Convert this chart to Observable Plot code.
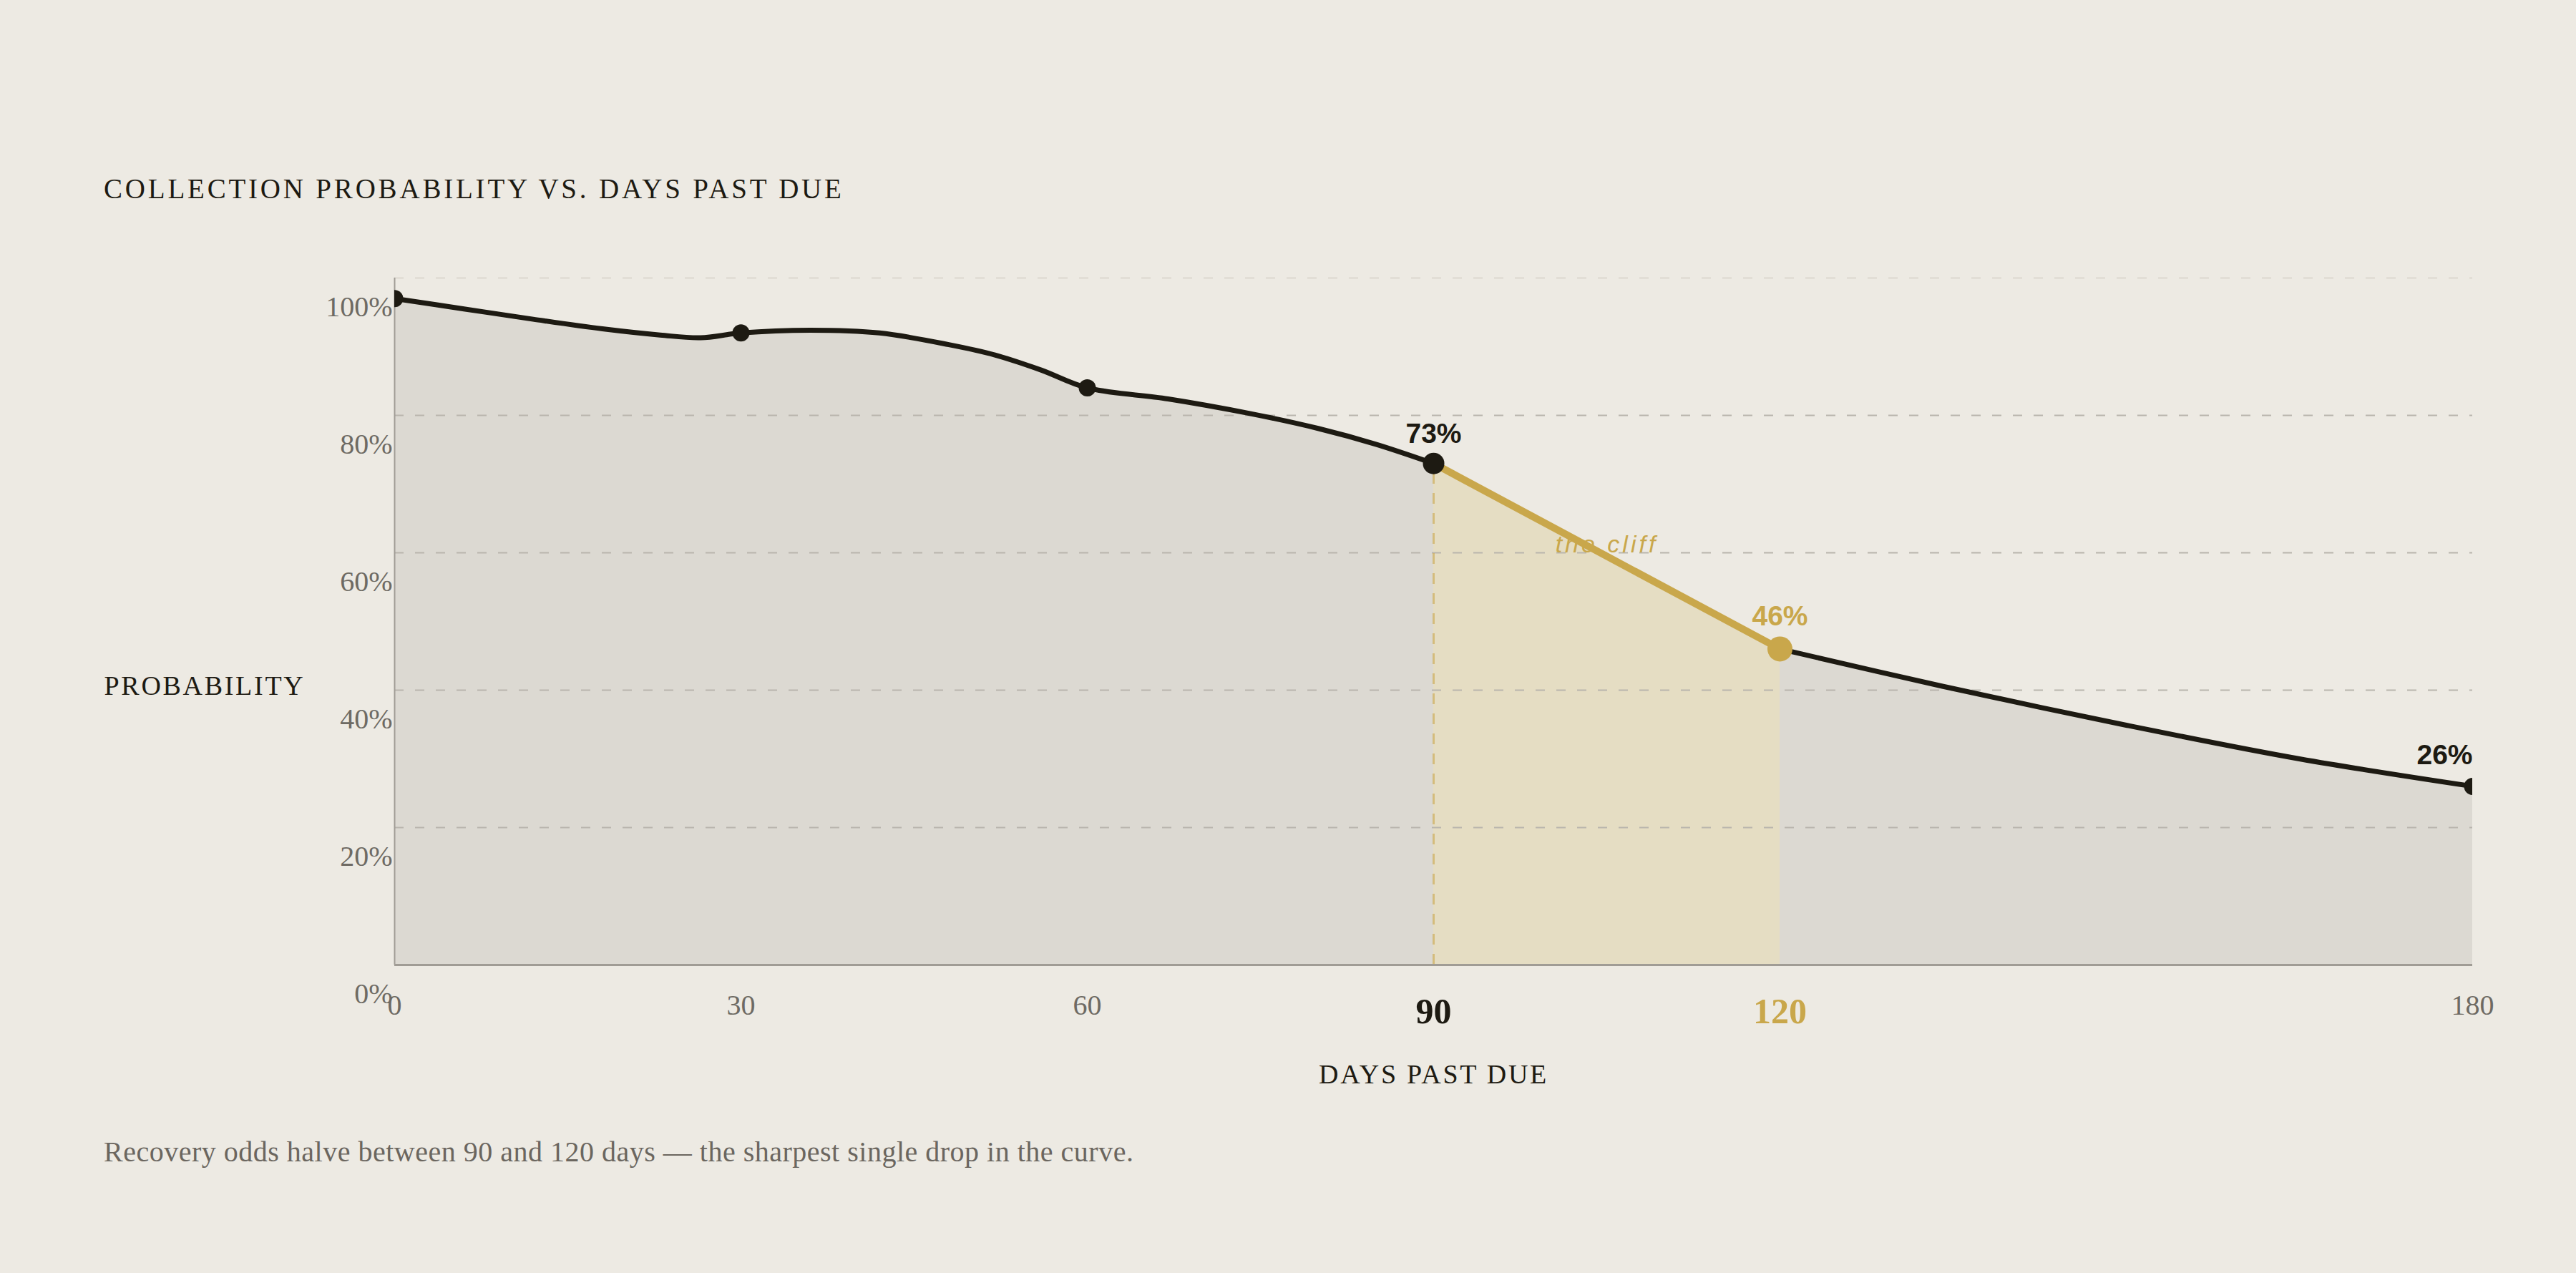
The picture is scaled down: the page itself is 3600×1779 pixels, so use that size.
<!DOCTYPE html>
<html>
<head>
<meta charset="utf-8">
<script src="https://cdn.jsdelivr.net/npm/d3@7"></script>
<script src="https://cdn.jsdelivr.net/npm/@observablehq/plot@0.6"></script>
<style>
  html, body { margin: 0; padding: 0; background: #edeae3; }
  body { width: 3600px; height: 1779px; position: relative; overflow: hidden; font-family: "Liberation Serif", serif; }
  #title { position: absolute; left: 145px; top: 244px; font-size: 39px; line-height: 1; letter-spacing: 3.8px; color: #1d1a12; white-space: nowrap; }
  #chart { position: absolute; left: 0; top: 300px; }
  #caption { position: absolute; left: 145px; top: 1590px; font-size: 40px; line-height: 1; letter-spacing: 0.5px; color: #6b665f; white-space: nowrap; }
</style>
</head>
<body>
<div id="title"></div>
<div id="chart"></div>
<div id="caption"></div>
<script>
// ---- text ----
const titleText = "COLLECTION PROBABILITY VS. DAYS PAST DUE";
const yLabelText = "PROBABILITY";
const xLabelText = "DAYS PAST DUE";
const captionText = "Recovery odds halve between 90 and 120 days \u2014 the sharpest single drop in the curve.";
const cliffNoteText = "the cliff";

// ---- data ----
const keyDays = [0, 30, 60, 90, 120, 180];
const keyProb = [97, 92, 84, 73, 46, 26];
const curveDays = [0, 6, 12, 18, 23, 26.5, 30, 36, 42, 48, 52, 56, 60, 67, 74, 80, 85, 90, 120, 134, 150, 165, 180];
const curveProb = [97, 95.5, 94.0, 92.6, 91.7, 91.3, 92, 92.4, 92.0, 90.3, 88.8, 86.6, 84, 82.4, 80.3, 78.1, 75.8, 73, 46, 40.6, 34.9, 30.0, 26];
const cliffDays = [90, 120];
const cliffProb = [73, 46];
const annotatedDays = [90, 120, 180];
const yTicks = [0, 20, 40, 60, 80, 100];
const xTicks = [0, 30, 60, 90, 120, 180];
const xTickStrong = [90];
const xTickGold = [120];

// ---- colours ----
const C = {
  ink: "#1d1a12", gold: "#c9a74b", area: "#dcd9d2", goldArea: "#e5ddc3",
  grid: "#b9b5ad", gridLight: "#dcd8d0", axis: "#a09c95", tick: "#6e6a63"
};

document.getElementById("title").textContent = titleText;
document.getElementById("caption").textContent = captionText;

const keyRows = keyDays.map((d, i) => ({day: d, prob: keyProb[i]}));
const curveRows = curveDays.map((d, i) => ({
  day: d, prob: curveProb[i],
  seg: d <= cliffDays[0] ? "before" : d >= cliffDays[1] ? "after" : null
})).filter(r => r.seg !== null);
const cliffRows = cliffDays.map((d, i) => ({day: d, prob: cliffProb[i]}));
const cliffMid = [{day: d3.mean(cliffDays), prob: d3.mean(cliffProb), text: cliffNoteText}];
const annRows = keyRows.filter(r => annotatedDays.includes(r.day));
const plainTicks = xTicks.filter(t => !xTickStrong.includes(t) && !xTickGold.includes(t));

const plot = Plot.plot({
  width: 3600,
  height: 1250,
  marginLeft: 551,
  marginRight: 145,
  marginTop: 88,
  marginBottom: 202,
  x: {domain: [0, 180], axis: null},
  y: {domain: [0, 100], axis: null},
  style: {background: "transparent", fontFamily: "Liberation Serif", overflow: "visible"},
  marks: [
    Plot.areaY(curveRows, {x: "day", y: "prob", z: "seg", curve: "catmull-rom", fill: C.area}),
    Plot.areaY(cliffRows, {x: "day", y: "prob", fill: C.goldArea}),
    Plot.ruleY(yTicks.filter(t => t > 0 && t < 100), {stroke: C.grid, strokeWidth: 2, strokeDasharray: "13,16"}),
    Plot.ruleY(yTicks.filter(t => t === 100), {stroke: C.gridLight, strokeWidth: 2, strokeDasharray: "13,16"}),
    Plot.ruleX([cliffRows[0]], {x: "day", y1: 0, y2: "prob", stroke: C.gold, strokeOpacity: 0.6, strokeWidth: 3, strokeDasharray: "15,13"}),
    Plot.ruleX([0], {stroke: C.axis, strokeWidth: 2}),
    Plot.ruleY([0], {stroke: C.axis, strokeWidth: 3}),
    Plot.axisY({ticks: yTicks, tickFormat: d => d + "%", tickSize: 0, tickPadding: 3, dy: 41,
      fontSize: 40, fill: C.tick, label: null}),
    Plot.text(plainTicks, {x: d => d, text: d => String(d), frameAnchor: "bottom", lineAnchor: "bottom",
      dy: 69, fontSize: 40, fill: C.tick}),
    Plot.text(xTickStrong, {x: d => d, text: d => String(d), frameAnchor: "bottom", lineAnchor: "bottom",
      dy: 81, fontSize: 50, fontWeight: "bold", fill: C.ink}),
    Plot.text(xTickGold, {x: d => d, text: d => String(d), frameAnchor: "bottom", lineAnchor: "bottom",
      dy: 81, fontSize: 50, fontWeight: "bold", fill: C.gold}),
    Plot.text([yLabelText], {text: d => d, frameAnchor: "left", textAnchor: "start", lineAnchor: "bottom",
      dx: -406, dy: 102, fontSize: 38, fill: C.ink}),
    Plot.text([xLabelText], {text: d => d, frameAnchor: "bottom", lineAnchor: "bottom",
      dy: 165, fontSize: 38, fill: C.ink}),
    Plot.line(curveRows, {x: "day", y: "prob", z: "seg", curve: "catmull-rom", stroke: C.ink, strokeWidth: 7, clip: true}),
    Plot.text(cliffMid, {x: "day", y: "prob", text: "text", lineAnchor: "bottom", dy: -5,
      fontFamily: "Liberation Sans", fontStyle: "italic", fontSize: 34, fill: C.gold}),
    Plot.line(cliffRows, {x: "day", y: "prob", stroke: C.gold, strokeWidth: 10}),
    Plot.dot(keyRows.filter(r => !cliffDays.includes(r.day)), {x: "day", y: "prob", r: 12, fill: C.ink, clip: true}),
    Plot.dot(keyRows.filter(r => r.day === cliffDays[0]), {x: "day", y: "prob", r: 15, fill: C.ink}),
    Plot.dot(keyRows.filter(r => r.day === cliffDays[1]), {x: "day", y: "prob", r: 17.5, fill: C.gold}),
    Plot.text(annRows.filter(r => r.day === cliffDays[0]), {x: "day", y: "prob", text: d => d.prob + "%",
      lineAnchor: "bottom", dy: -29, fontFamily: "Liberation Sans", fontWeight: "bold", fontSize: 39, fill: C.ink}),
    Plot.text(annRows.filter(r => r.day === cliffDays[1]), {x: "day", y: "prob", text: d => d.prob + "%",
      lineAnchor: "bottom", dy: -33, fontFamily: "Liberation Sans", fontWeight: "bold", fontSize: 39, fill: C.gold}),
    Plot.text(annRows.filter(r => !cliffDays.includes(r.day)), {x: "day", y: "prob", text: d => d.prob + "%",
      lineAnchor: "bottom", textAnchor: "end", dy: -31, fontFamily: "Liberation Sans", fontWeight: "bold", fontSize: 39, fill: C.ink})
  ]
});

const spacing = {[yLabelText]: "2.7px", [xLabelText]: "2.7px", [cliffNoteText]: "4px"};
d3.select(plot).selectAll("text").each(function() {
  const ls = spacing[this.textContent];
  if (ls) this.setAttribute("letter-spacing", ls);
});
document.getElementById("chart").appendChild(plot);
</script>
</body>
</html>
